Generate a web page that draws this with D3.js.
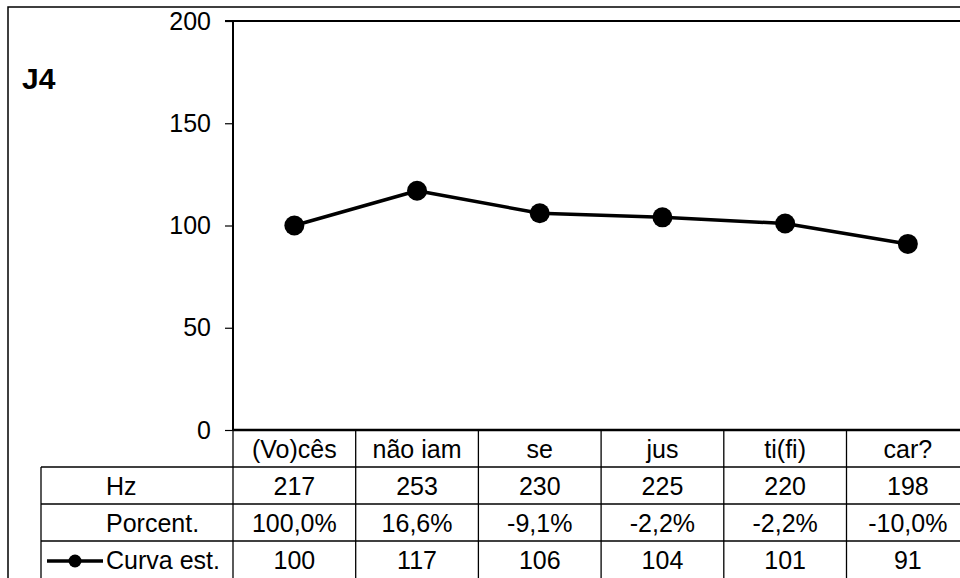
<!DOCTYPE html>
<html>
<head>
<meta charset="utf-8">
<script src="https://cdn.jsdelivr.net/npm/d3@7"></script>
<style>
  html, body { margin: 0; padding: 0; background: #fff; }
  svg { display: block; font-family: "Liberation Sans", Arial, sans-serif; }
</style>
</head>
<body>
<svg id="chart" width="960" height="578"></svg>
<script>
// Syllables of the utterance
const categories = ["(Vo)cês", "não iam", "se", "jus", "ti(fi)", "car?"];
// Measured F0 per syllable
const hzValues = [217, 253, 230, 225, 220, 198];
// Relative change between syllables
const percentLabels = ["100,0%", "16,6%", "-9,1%", "-2,2%", "-2,2%", "-10,0%"];
// Stylised curve (first syllable = 100)
const curveValues = [100, 117, 106, 104, 101, 91];
// Y axis ticks
const yTicks = [0, 50, 100, 150, 200];

const svg = d3.select("#chart");

const plotLeft = 233, plotTop = 21, plotBottom = 430;
const colWidth = 122.7;
const plotRight = plotLeft + colWidth * categories.length;
const tableLeft = 41;
const rowH = 37;
const fontSize = 25;

const x = d3.scaleBand().domain(categories).range([plotLeft, plotRight]);
const y = d3.scaleLinear().domain([0, 200]).range([plotBottom, plotTop]);

// Outer chart border
svg.append("rect")
  .attr("x", 8).attr("y", 7)
  .attr("width", 1000).attr("height", 700)
  .attr("fill", "none").attr("stroke", "#000").attr("stroke-width", 1.5);

// Title
svg.append("text")
  .attr("x", 22).attr("y", 89)
  .attr("font-size", 30).attr("font-weight", "bold")
  .text("J4");

// Plot frame
svg.append("line")
  .attr("x1", plotLeft).attr("x2", plotRight + 10)
  .attr("y1", plotTop).attr("y2", plotTop)
  .attr("stroke", "#000").attr("stroke-width", 2);

// Y axis
const yAxis = d3.axisLeft(y).tickValues(yTicks).tickSize(8).tickPadding(14);
const gy = svg.append("g").attr("transform", `translate(${plotLeft},0)`).call(yAxis);
gy.select(".domain").attr("stroke-width", 2).attr("d", `M-8,${plotTop}H0V${plotBottom}`);
gy.selectAll(".tick line").attr("stroke-width", 1.2);
gy.selectAll(".tick text")
  .attr("font-size", fontSize)
  .attr("font-family", "Liberation Sans, Arial, sans-serif")
  .attr("fill", "#000");

// Baseline (zero)
svg.append("line")
  .attr("x1", plotLeft).attr("x2", plotRight + 10)
  .attr("y1", plotBottom).attr("y2", plotBottom)
  .attr("stroke", "#000").attr("stroke-width", 2.5);

// Data table grid
const grid = svg.append("g").attr("stroke", "#000").attr("stroke-width", 1.3);
// Horizontal row lines
[1, 2, 3].forEach(r => {
  grid.append("line")
    .attr("x1", tableLeft).attr("x2", plotRight + 10)
    .attr("y1", plotBottom + r * rowH).attr("y2", plotBottom + r * rowH);
});
// Left edge of row-header column
grid.append("line")
  .attr("x1", tableLeft).attr("x2", tableLeft)
  .attr("y1", plotBottom + rowH).attr("y2", 600);
// Column separators
categories.forEach((c, i) => {
  const xx = x(c);
  grid.append("line")
    .attr("x1", xx).attr("x2", xx)
    .attr("y1", i === 0 ? plotBottom : plotBottom).attr("y2", 600);
});
grid.append("line")
  .attr("x1", plotRight).attr("x2", plotRight)
  .attr("y1", plotBottom).attr("y2", 600);

// Table text
const tText = svg.append("g").attr("font-size", fontSize).attr("fill", "#000");
const cellCx = c => x(c) + x.bandwidth() / 2;
const rowBase = r => plotBottom + r * rowH + 28;

tText.selectAll("text.cat").data(categories).join("text")
  .attr("x", d => cellCx(d)).attr("y", rowBase(0))
  .attr("text-anchor", "middle").text(d => d);

tText.selectAll("text.hz").data(hzValues).join("text")
  .attr("x", (d, i) => cellCx(categories[i])).attr("y", rowBase(1))
  .attr("text-anchor", "middle").text(d => d);

tText.selectAll("text.pc").data(percentLabels).join("text")
  .attr("x", (d, i) => cellCx(categories[i])).attr("y", rowBase(2))
  .attr("text-anchor", "middle").text(d => d);

tText.selectAll("text.cv").data(curveValues).join("text")
  .attr("x", (d, i) => cellCx(categories[i])).attr("y", rowBase(3))
  .attr("text-anchor", "middle").text(d => d);

// Row headers
const headers = ["Hz", "Porcent.", "Curva est."];
headers.forEach((h, i) => {
  tText.append("text").attr("x", 106).attr("y", rowBase(i + 1)).text(h);
});

// Legend key for the series row
const keyY = plotBottom + 3 * rowH + 20;
svg.append("line")
  .attr("x1", 47).attr("x2", 103).attr("y1", keyY).attr("y2", keyY)
  .attr("stroke", "#000").attr("stroke-width", 3.5);
svg.append("circle").attr("cx", 75).attr("cy", keyY).attr("r", 6.5).attr("fill", "#000");

// Series line and markers
const line = d3.line()
  .x((d, i) => cellCx(categories[i]))
  .y(d => y(d));
svg.append("path")
  .datum(curveValues)
  .attr("d", line)
  .attr("fill", "none").attr("stroke", "#000").attr("stroke-width", 3.5)
  .attr("stroke-linejoin", "round");
svg.selectAll("circle.pt").data(curveValues).join("circle")
  .attr("class", "pt")
  .attr("cx", (d, i) => cellCx(categories[i]))
  .attr("cy", d => y(d))
  .attr("r", 10)
  .attr("fill", "#000");
</script>
</body>
</html>
